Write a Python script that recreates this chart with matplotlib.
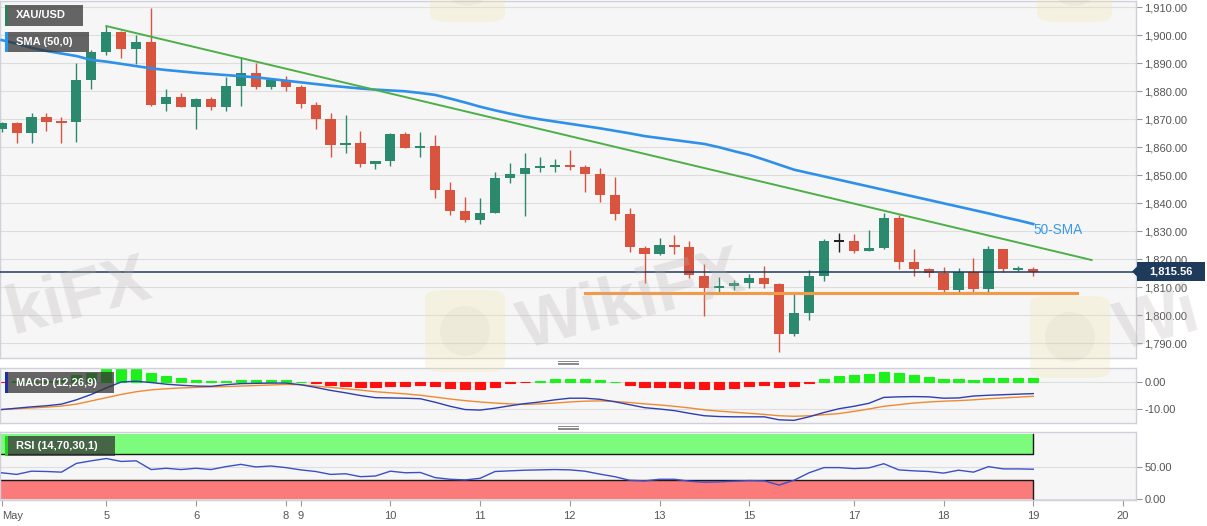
import matplotlib
matplotlib.use("Agg")
import matplotlib.pyplot as plt
import matplotlib.ticker as mticker
from matplotlib.patches import Rectangle, Polygon, FancyBboxPatch, Ellipse

plt.rcParams['font.family'] = ['Liberation Sans', 'DejaVu Sans']

# XAU/USD 4H candles (index 0 = first candle on the left)
opens = [1866.4, 1868.6, 1865.0, 1871.0, 1869.2, 1868.9, 1884.0, 1894.1, 1901.3, 1895.0,
         1897.5, 1875.3, 1878.1, 1874.5, 1877.1, 1874.5, 1881.9, 1886.6, 1881.4, 1884.0,
         1881.4, 1875.1, 1870.0, 1860.8, 1861.6, 1854.1, 1855.0, 1864.7, 1859.9, 1860.4,
         1844.8, 1837.4, 1834.0, 1836.7, 1848.9, 1850.5, 1852.5, 1853.1, 1853.8, 1853.0,
         1850.6, 1843.0, 1836.1, 1824.1, 1821.9, 1825.0, 1824.3, 1814.1, 1809.6, 1810.3,
         1811.6, 1813.2, 1811.1, 1793.3, 1800.7, 1814.0, 1826.5, 1826.6, 1823.0, 1824.2,
         1834.6, 1818.9, 1816.4, 1815.2, 1809.0, 1815.6, 1809.3, 1823.6, 1816.4, 1816.6]
highs = [1869.0, 1869.2, 1872.1, 1872.2, 1871.0, 1890.0, 1894.7, 1903.3, 1901.5, 1900.0,
         1909.6, 1881.0, 1879.5, 1877.5, 1878.0, 1885.2, 1892.4, 1890.2, 1884.3, 1885.4,
         1882.3, 1876.3, 1872.4, 1871.5, 1866.0, 1855.2, 1865.0, 1865.6, 1865.3, 1864.4,
         1847.7, 1842.2, 1841.9, 1851.3, 1854.5, 1858.1, 1856.4, 1855.8, 1858.9, 1853.8,
         1852.5, 1849.3, 1838.3, 1824.6, 1827.6, 1828.6, 1826.7, 1818.3, 1813.6, 1812.5,
         1814.9, 1817.6, 1811.4, 1807.9, 1816.1, 1827.1, 1829.5, 1829.2, 1830.6, 1836.4,
         1835.8, 1823.6, 1817.0, 1817.3, 1816.8, 1820.5, 1824.7, 1823.8, 1817.7, 1817.1]
lows = [1865.5, 1861.7, 1861.4, 1865.9, 1861.7, 1862.0, 1881.0, 1893.0, 1891.8, 1889.7,
        1874.7, 1873.0, 1874.3, 1866.4, 1873.3, 1873.0, 1874.7, 1881.0, 1881.0, 1880.0,
        1874.0, 1866.7, 1856.4, 1857.8, 1853.0, 1852.4, 1853.5, 1859.6, 1856.7, 1841.8,
        1835.7, 1833.3, 1832.5, 1836.4, 1847.1, 1835.5, 1851.3, 1851.2, 1852.0, 1844.1,
        1840.4, 1834.0, 1822.6, 1811.4, 1821.5, 1821.8, 1813.2, 1799.7, 1807.8, 1809.0,
        1809.8, 1809.8, 1787.0, 1792.5, 1798.5, 1812.2, 1822.5, 1822.2, 1822.8, 1823.8,
        1816.6, 1814.1, 1813.8, 1807.6, 1808.0, 1807.6, 1807.6, 1815.6, 1815.9, 1814.0]
closes = [1868.6, 1865.0, 1871.0, 1869.2, 1868.9, 1884.0, 1894.1, 1901.3, 1895.0, 1897.5,
          1875.1, 1878.1, 1874.5, 1877.1, 1874.5, 1881.9, 1886.6, 1881.4, 1884.0, 1881.4,
          1875.3, 1870.1, 1860.8, 1861.6, 1854.1, 1855.0, 1864.7, 1859.9, 1860.4, 1844.8,
          1837.4, 1834.0, 1836.7, 1848.9, 1850.5, 1852.5, 1853.1, 1853.8, 1853.0, 1850.6,
          1843.0, 1836.1, 1824.5, 1821.9, 1825.0, 1824.3, 1814.4, 1809.6, 1810.3, 1811.6,
          1813.2, 1811.1, 1793.3, 1800.7, 1814.0, 1826.5, 1826.5, 1823.0, 1824.2, 1834.6,
          1819.1, 1816.4, 1815.2, 1809.0, 1815.6, 1809.3, 1823.6, 1816.4, 1816.6, 1815.56]

sma50 = [1898.3, 1897.0, 1895.5, 1894.4, 1893.5, 1892.6, 1891.2, 1890.6, 1889.8, 1889.0,
         1888.2, 1887.6, 1887.1, 1886.6, 1886.2, 1885.8, 1885.4, 1885.0, 1884.4, 1883.8,
         1883.2, 1882.6, 1882.0, 1881.5, 1881.0, 1880.6, 1880.3, 1880.0, 1879.4, 1878.7,
         1877.4, 1876.0, 1874.5, 1873.2, 1872.0, 1870.9, 1870.0, 1869.2, 1868.4, 1867.6,
         1866.8, 1865.9, 1865.0, 1864.0, 1863.3, 1862.6, 1861.9, 1861.2, 1860.0, 1858.6,
         1857.3, 1855.6, 1853.8, 1852.0, 1850.8, 1849.6, 1848.4, 1847.2, 1846.0, 1844.8,
         1843.6, 1842.4, 1841.2, 1840.0, 1838.8, 1837.6, 1836.4, 1835.1, 1833.9, 1832.6]

macd_hist = [-0.1, 0.2, 0.3, 0.5, 0.8, 2.5, 3.3, 4.7, 4.9, 4.9,
             3.3, 2.3, 1.5, 0.9, 0.5, 0.5, 0.8, 0.8, 0.8, 0.7,
             0.1, -0.3, -1.1, -1.5, -2.0, -2.0, -1.4, -1.3, -1.1, -1.6,
             -2.4, -2.7, -2.7, -1.8, -0.5, -0.1, 0.3, 1.0, 1.2, 1.2,
             0.9, 0.1, -1.0, -1.8, -1.8, -1.8, -2.2, -2.5, -2.5, -2.1,
             -1.5, -1.2, -1.8, -1.6, -0.4, 1.2, 2.2, 2.7, 3.0, 3.7,
             3.2, 2.5, 2.0, 1.2, 1.2, 0.7, 1.5, 1.5, 1.4, 1.4]
macd_line = [-10.2, -9.7, -9.2, -8.8, -8.2, -6.6, -4.6, -2.2, 0.0, 0.3,
             -0.2, -0.8, -1.2, -1.5, -1.6, -1.0, -0.6, -0.5, -0.4, -0.4,
             -1.0, -2.0, -3.1, -4.0, -5.0, -5.8, -5.9, -6.0, -6.2, -7.5,
             -9.0, -10.2, -10.4, -9.7, -8.8, -8.0, -7.4, -6.6, -6.0, -6.0,
             -6.4, -7.3, -8.4, -9.5, -10.0, -10.6, -11.6, -12.5, -12.8, -12.9,
             -12.9, -12.9, -14.0, -14.2, -12.9, -11.3, -9.9, -9.0, -7.9, -5.7,
             -5.5, -5.4, -5.5, -6.0, -5.9, -5.2, -4.9, -4.7, -4.5, -4.3]
macd_signal = [-10.2, -9.9, -9.6, -9.3, -8.9, -8.2, -7.0, -5.8, -4.6, -3.6,
               -2.9, -2.5, -2.2, -2.0, -1.8, -1.7, -1.5, -1.3, -1.1, -0.9,
               -1.0, -1.5, -2.0, -2.5, -3.0, -3.6, -4.0, -4.4, -4.9, -5.6,
               -6.3, -6.9, -7.4, -7.8, -8.1, -8.3, -8.1, -7.8, -7.4, -7.1,
               -7.0, -7.2, -7.6, -8.1, -8.5, -9.0, -9.6, -10.3, -10.8, -11.2,
               -11.6, -12.0, -12.5, -12.7, -12.5, -12.1, -11.7, -10.9, -10.0, -9.0,
               -8.4, -7.8, -7.4, -7.1, -6.9, -6.6, -6.2, -5.9, -5.6, -5.3]

rsi = [40.5, 38, 43, 42.5, 41.5, 55, 59, 62.5, 58, 59,
       45.5, 47.5, 45.5, 47.5, 45.5, 50, 53.5, 49.5, 51, 48.5,
       45, 42.5, 38, 39, 34.5, 35.5, 43, 40.5, 41, 33,
       30.5, 29.5, 32, 42.5, 43.5, 44.5, 45, 45.5, 45, 43,
       38.5, 34.5, 29, 28, 30.5, 30.5, 27.5, 26, 26.5, 27.5,
       28.5, 28, 21.5, 29, 40.5, 48.5, 48.5, 47, 48, 54.5,
       45, 43.5, 42.5, 40, 44.5, 41.5, 50, 46.5, 46.5, 46]

# day labels on the time axis (candle index where each day starts)
tick_idx = [0, 7, 13, 19, 20, 26, 32, 38, 44, 50, 57, 63, 69, 75]
tick_text = ["May", "5", "6", "8", "9", "10", "11", "12", "13", "15", "17", "18", "19", "20"]

# drawn lines: falling trend line, support, last price
trend_x = [7, 72.9]
trend_y = [1903.3, 1819.75]
support_x = [39, 71.9]
support_y = [1807.8, 1807.8]
last_price = 1815.56
sma_tag_x = 69.0
sma_tag_y = 1830.3

W, H = 1207, 526
XMIN, XMAX = -0.11, 75.87
UP, DOWN, FLAT = '#2b8a6e', '#d9543f', '#222222'


def px_rect(fig, x0, y0, x1, y1, **kw):
    # box given in picture pixels (top-left origin)
    r = Rectangle((x0 / W, 1 - y1 / H), (x1 - x0) / W, (y1 - y0) / H,
                  transform=fig.transFigure, **kw)
    fig.add_artist(r)


def label_box(fig, x0, y0, x1, y1, strip, text):
    px_rect(fig, x0, y0, x1, y1, facecolor='#333333', alpha=0.75, edgecolor='none', zorder=5)
    px_rect(fig, x0, y0, x0 + 2.5, y1, facecolor=strip, edgecolor='none', zorder=6)
    fig.text((x0 + 11) / W, 1 - (y0 + y1) / 2 / H, text, color='white', fontsize=8,
             fontweight='bold', va='center', ha='left', zorder=7)


def style_panel(a, yticks, fmt):
    a.set_facecolor('#f6f6f6')
    for s in a.spines.values():
        s.set_color('#cfd0dc')
        s.set_linewidth(1)
    a.set_xlim(XMIN, XMAX)
    a.yaxis.tick_right()
    a.set_yticks(yticks)
    a.yaxis.set_major_formatter(mticker.FuncFormatter(lambda v, p: fmt.format(v)))
    a.tick_params(axis='y', length=4, width=0.8, color='#999999', labelsize=8,
                  labelcolor='#555555', pad=2)
    a.tick_params(axis='x', bottom=False, labelbottom=False)
    a.grid(axis='y', color='#dedede', linewidth=0.8)
    a.set_axisbelow(True)


def watermarks(fig):
    # faint site logos and the visible parts of the "WikiFX" stamps
    for (x0, y0, x1, y1) in [(425, 290, 505, 372), (1030, 296, 1110, 378),
                             (430, -60, 505, 22), (1037, -60, 1112, 22)]:
        box = FancyBboxPatch((x0 / W, 1 - y1 / H), (x1 - x0) / W, (y1 - y0) / H,
                             boxstyle="round,pad=0,rounding_size=0.015",
                             transform=fig.transFigure, facecolor='#f2e3a6',
                             edgecolor='none', alpha=0.25, zorder=4)
        fig.add_artist(box)
        fig.add_artist(Ellipse(((x0 + x1) / 2 / W, 1 - (y0 + y1) / 2 / H), 50 / W, 50 / H,
                               transform=fig.transFigure, facecolor='#a09a90',
                               edgecolor='none', alpha=0.08, zorder=4))
    for (cx, cy, txt) in [(78, 298, "kiFX"), (632, 302, "WikiFX"), (1158, 322, "Wi")]:
        fig.text(cx / W, 1 - cy / H, txt, fontsize=50, fontweight='bold',
                 color='#b8afaf', alpha=0.28, rotation=15, ha='center', va='center',
                 zorder=4)


def main():
    idx = list(range(len(closes)))
    fig = plt.figure(figsize=(W / 100, H / 100), dpi=100)
    fig.patch.set_facecolor('white')

    ax = fig.add_axes([0, 1 - 358 / H, 1136 / W, 357 / H])
    axm = fig.add_axes([0, 1 - 422.5 / H, 1136 / W, 54.8 / H])
    axr = fig.add_axes([0, 1 - 500 / H, 1136 / W, 67.7 / H])

    # price panel
    style_panel(ax, list(range(1790, 1911, 10)), "{:,.2f}")
    ax.set_ylim(1784.75, 1912.25)
    colors = []
    bottoms = []
    heights = []
    for o, c in zip(opens, closes):
        if abs(c - o) < 0.05:
            colors.append(FLAT)
        elif c > o:
            colors.append(UP)
        else:
            colors.append(DOWN)
        h = max(abs(c - o), 0.7)
        bottoms.append((o + c) / 2 - h / 2)
        heights.append(h)
    ax.vlines(idx, lows, highs, colors=colors, linewidth=1, zorder=2)
    ax.bar(idx, heights, bottom=bottoms, width=0.68, color=colors, linewidth=0, zorder=3)

    ax.plot(idx, sma50, color='#2e90e8', linewidth=1.9, zorder=4)
    ax.plot(trend_x, trend_y, color='#4caf48', linewidth=1.4, zorder=4)
    ax.plot(support_x, support_y, color='#f29a48', linewidth=2.2, zorder=4)
    ax.axhline(last_price, color='#1f3b5c', linewidth=1.1, zorder=4)
    ax.text(sma_tag_x, sma_tag_y, "50-SMA", color='#3a9ae6', fontsize=9.8,
            ha='left', va='center', zorder=5)

    # macd panel
    style_panel(axm, [-10, 0], "{:.2f}")
    axm.set_ylim(-15.0, 5.3)
    hist_colors = ['#1ef01e' if v >= 0 else '#ff1010' for v in macd_hist]
    axm.bar(idx, macd_hist, width=0.68, color=hist_colors, edgecolor=hist_colors,
            linewidth=0.8, zorder=2)
    axm.plot(idx, macd_signal, color='#f08a30', linewidth=1, zorder=3)
    axm.plot(idx, macd_line, color='#2c3fb0', linewidth=1, zorder=3)

    # rsi panel
    style_panel(axr, [0, 50], "{:.2f}")
    axr.set_ylim(-1.5, 103)
    last = idx[-1]
    axr.add_patch(Rectangle((XMIN, 70), last - XMIN, 30, facecolor='#7dfb7d',
                            edgecolor='none', zorder=1))
    axr.add_patch(Rectangle((XMIN, 0), last - XMIN, 30, facecolor='#fb7b7b',
                            edgecolor='none', zorder=1))
    axr.plot([XMIN, last, last], [70, 70, 100], color='#1a1a1a', linewidth=1, zorder=2)
    axr.plot([XMIN, last, last], [30, 30, 0], color='#1a1a1a', linewidth=1, zorder=2)
    axr.plot(idx, rsi, color='#3b4fc8', linewidth=1, zorder=3)

    axr.set_xticks(tick_idx)
    axr.set_xticklabels(tick_text)
    axr.tick_params(axis='x', bottom=True, labelbottom=True, length=4, width=0.8,
                    color='#999999', labelsize=8, labelcolor='#555555', pad=4)
    axr.get_xticklabels()[0].set_ha('left')

    # indicator name boxes
    label_box(fig, 5, 5, 83, 26, '#2e7d5b', "XAU/USD")
    label_box(fig, 5, 32, 89, 52, '#2196f3', "SMA (50,0)")
    label_box(fig, 5, 372, 114, 393, '#1f2fa8', "MACD (12,26,9)")
    label_box(fig, 5, 436, 115, 456, '#1ed61e', "RSI (14,70,30,1)")

    # panel resize handles
    for y in (361, 426):
        for k in range(3):
            fig.add_artist(plt.Line2D([558 / W, 578 / W], [1 - (y + 1.5 * k) / H] * 2,
                                      transform=fig.transFigure, color='#888888',
                                      linewidth=0.7))

    # last price tag
    px_rect(fig, 1137, 262, 1205, 281, facecolor='#1f3b5c', edgecolor='none', zorder=6)
    fig.add_artist(Polygon([(1132 / W, 1 - 271.5 / H), (1137.5 / W, 1 - 266 / H),
                            (1137.5 / W, 1 - 277 / H)], closed=True,
                           transform=fig.transFigure, facecolor='#1f3b5c',
                           edgecolor='none', zorder=6))
    fig.text(1171 / W, 1 - 271.5 / H, "{:,.2f}".format(last_price), color='white',
             fontsize=8, fontweight='bold', ha='center', va='center', zorder=7)

    watermarks(fig)

    fig.savefig("out.png", dpi=100, facecolor='white')


if __name__ == "__main__":
    main()
